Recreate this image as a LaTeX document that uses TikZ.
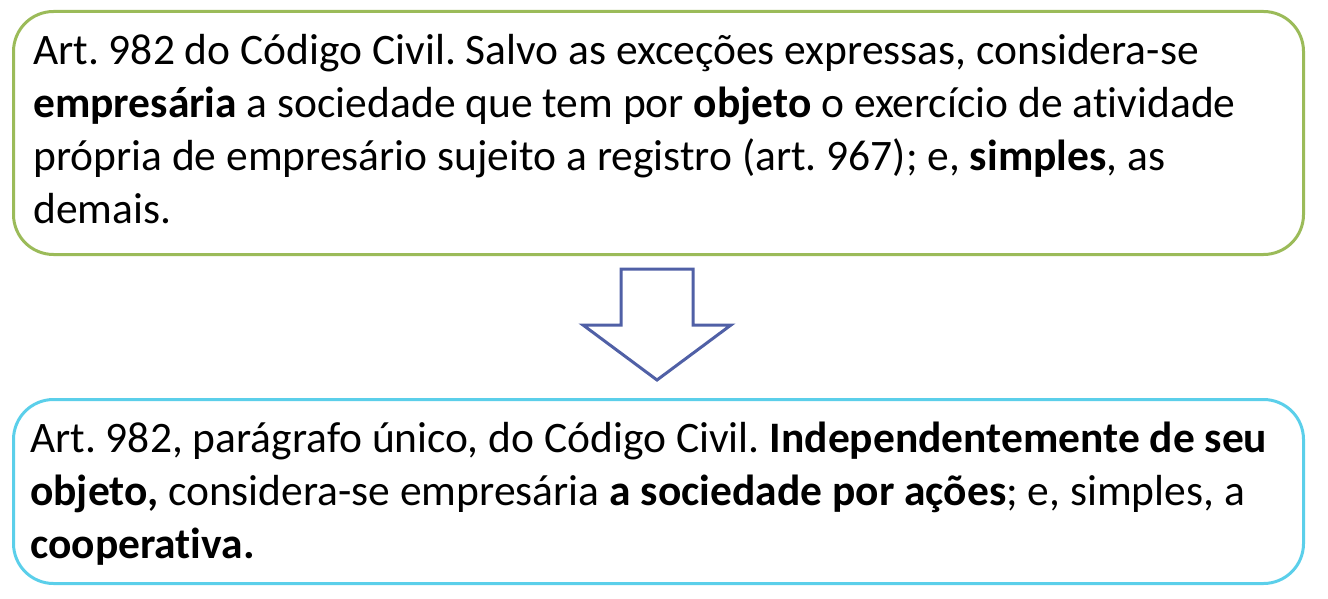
\documentclass[tikz,border=0pt]{standalone}
\usepackage{fontspec}
\setmainfont[Ligatures=NoCommon]{Carlito}
\definecolor{boxgreen}{HTML}{9BBB59}
\definecolor{boxcyan}{HTML}{5BCFEA}
\definecolor{arrowblue}{HTML}{5060A6}
\tikzset{
  roundbox/.style={draw, line width=3pt, rounded corners=40pt, inner sep=0pt, anchor=north west},
  bodytext/.style={anchor=base west, inner sep=0pt},
}
\newcommand{\boxtext}[1]{\parbox[t]{1265pt}{\raggedright\frenchspacing\fontsize{43.5}{53}\selectfont #1}}
\begin{document}
\begin{tikzpicture}[x=1pt,y=1pt]
\useasboundingbox (0,0) rectangle (1328,-599);
\node[roundbox, draw=boxgreen, minimum width=1290pt, minimum height=243pt] (top) at (12,-10) {};
\node[roundbox, draw=boxcyan, minimum width=1290pt, minimum height=184pt] (bottom) at (12,-398) {};
\node[bodytext] (toptext) at (33,-65) {\boxtext{Art. 982 do Código Civil. Salvo as exceções expressas, considera-se\\
\textbf{empresária} a sociedade que tem por \textbf{objeto} o exercício de atividade\\
própria de empresário sujeito a registro (art. 967); e, \textbf{simples}, as\\
demais.}};
\node[bodytext] (bottomtext) at (30,-452) {\boxtext{Art. 982, parágrafo único, do Código Civil. \textbf{Independentemente de seu}\\
\textbf{objeto,} considera-se empresária \textbf{a sociedade por ações}; e, simples, a\\
\textbf{cooperativa.}}};
\draw[arrowblue, line width=3pt, fill=white, line join=miter]
  (621,-269) -- (693,-269) -- (693,-325) -- (731,-325) -- (657,-380) -- (583,-325) -- (621,-325) -- cycle;
\end{tikzpicture}
\end{document}
